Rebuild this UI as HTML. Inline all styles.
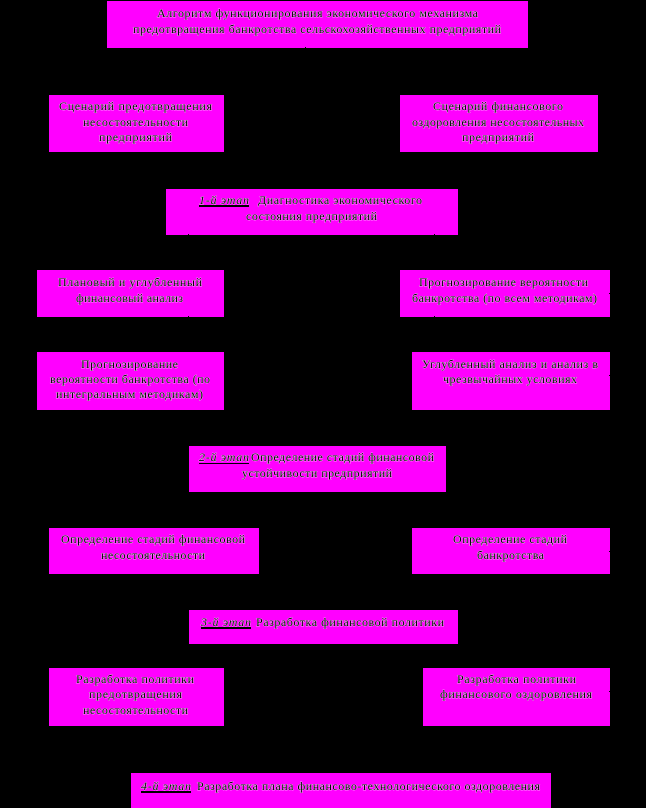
<!DOCTYPE html>
<html><head><meta charset="utf-8">
<style>
html,body{margin:0;padding:0;background:#000;width:646px;height:808px;overflow:hidden}
svg{display:block}
text{font-family:"Liberation Serif","Noto Serif CJK SC",serif;font-size:12px;fill:#000;stroke:#fff;stroke-width:.55px;paint-order:stroke;stroke-linejoin:round}
.i{font-style:italic}
rect{fill:#f0f}
rect.t{fill:#000}
rect.u{fill:#000}
</style></head><body>
<svg width="646" height="808" viewBox="0 0 646 808" xmlns="http://www.w3.org/2000/svg">
<rect x="107" y="1" width="421" height="47"/>
<rect x="49" y="95" width="175" height="57"/>
<rect x="400" y="95" width="198" height="57"/>
<rect x="166" y="189" width="292" height="46"/>
<rect x="37" y="270" width="187" height="47"/>
<rect x="400" y="270" width="210" height="47"/>
<rect x="37" y="352" width="187" height="58"/>
<rect x="412" y="352" width="198" height="58"/>
<rect x="189" y="446" width="257" height="46"/>
<rect x="49" y="528" width="210" height="46"/>
<rect x="412" y="528" width="198" height="46"/>
<rect x="189" y="610" width="269" height="34"/>
<rect x="49" y="668" width="175" height="58"/>
<rect x="423" y="668" width="187" height="58"/>
<rect x="131" y="773" width="420" height="35"/>

<rect class="t" x="305" y="47" width="1" height="1"/>
<rect class="t" x="188" y="234" width="1" height="1"/>
<rect class="t" x="434" y="234" width="1" height="1"/>
<rect class="t" x="188" y="316" width="1" height="1"/>
<rect class="t" x="434" y="316" width="1" height="1"/>
<rect class="t" x="609" y="293" width="1" height="1"/>
<rect class="t" x="609" y="375" width="1" height="1"/>
<rect class="t" x="609" y="551" width="1" height="1"/>
<rect class="t" x="609" y="691" width="1" height="1"/>

<rect class="u" x="199" y="205" width="50" height="2"/>
<rect class="u" x="199" y="463" width="50" height="1"/>
<rect class="u" x="201" y="627" width="50" height="2"/>
<rect class="u" x="141" y="791" width="50" height="2"/>

<text x="157" y="17" textLength="321">Алгоритм функционирования экономического механизма</text>
<text x="133" y="33" textLength="368">предотвращения банкротства сельскохозяйственных предприятий</text>

<text x="59" y="110" textLength="153">Сценарий предотвращения</text>
<text x="83" y="126" textLength="105">несостоятельности</text>
<text x="99" y="141" textLength="73">предприятий</text>

<text x="433" y="110" textLength="130">Сценарий финансового</text>
<text x="412" y="126" textLength="172">оздоровления несостоятельных</text>
<text x="462" y="141" textLength="72">предприятий</text>

<text class="i" x="199" y="204" textLength="50">1-й этап</text>
<text x="258" y="204" textLength="164">Диагностика экономического</text>
<text x="246" y="220" textLength="131">состояния предприятий</text>

<text x="58" y="286" textLength="144">Плановый и углубленный</text>
<text x="76" y="302" textLength="107">финансовый анализ</text>

<text x="419" y="286" textLength="169">Прогнозирование вероятности</text>
<text x="412" y="302" textLength="185">банкротства (по всем методикам)</text>

<text x="81" y="368" textLength="97">Прогнозирование</text>
<text x="50" y="383" textLength="160">вероятности банкротства (по</text>
<text x="56" y="398" textLength="147">интегральным методикам)</text>

<text x="422" y="368" textLength="176">Углубленный анализ и анализ в</text>
<text x="443" y="383" textLength="134">чрезвычайных условиях</text>

<text class="i" x="199" y="461" textLength="50">2-й этап</text>
<text x="251" y="461" textLength="183">Определение стадий финансовой</text>
<text x="242" y="477" textLength="150">устойчивости предприятий</text>

<text x="61" y="543" textLength="184">Определение стадий финансовой</text>
<text x="101" y="559" textLength="104">несостоятельности</text>

<text x="453" y="543" textLength="114">Определение стадий</text>
<text x="477" y="559" textLength="67">банкротства</text>

<text class="i" x="201" y="626" textLength="50">3-й этап</text>
<text x="256" y="626" textLength="188">Разработка финансовой политики</text>

<text x="76" y="683" textLength="118">Разработка политики</text>
<text x="89" y="698" textLength="93">предотвращения</text>
<text x="83" y="714" textLength="105">несостоятельности</text>

<text x="457" y="683" textLength="119">Разработка политики</text>
<text x="440" y="698" textLength="152">финансового оздоровления</text>

<text class="i" x="141" y="790" textLength="50">4-й этап</text>
<text x="197" y="790" textLength="343">Разработка плана финансово-технологического оздоровления</text>
</svg>
</body></html>
